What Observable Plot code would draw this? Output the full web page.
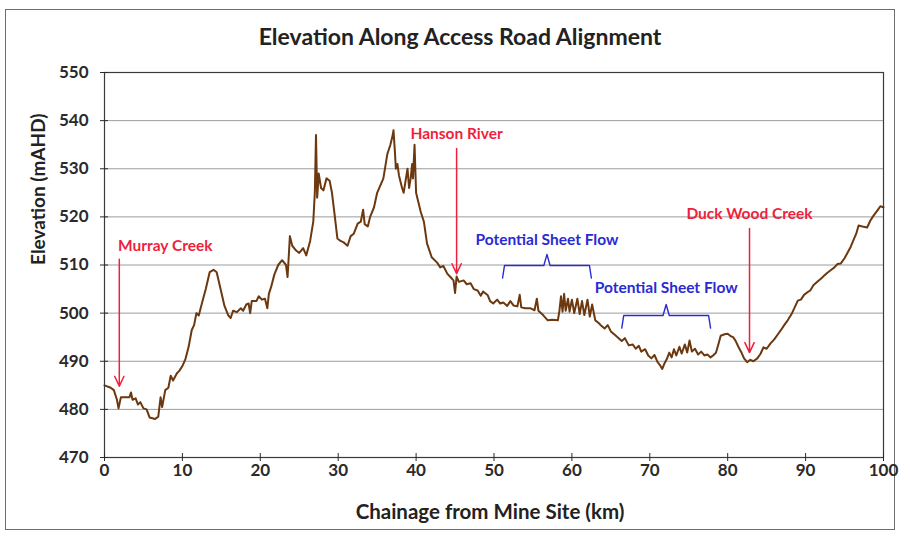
<!DOCTYPE html>
<html><head><meta charset="utf-8">
<script src="https://cdn.jsdelivr.net/npm/d3@7"></script>
<script src="https://cdn.jsdelivr.net/npm/@observablehq/plot@0.6"></script>
<style>
body{margin:0;background:#fff;}
#wrap{position:relative;width:902px;height:539px;overflow:hidden;}
#border{position:absolute;left:5px;top:9px;width:890px;height:521px;border:1px solid #6e6e6e;box-sizing:border-box;}
#chart{position:absolute;left:0;top:0;}
</style></head><body>
<div id="wrap"><div id="border"></div><div id="chart"></div></div>
<script>
const km = [0,0.8,1.2,1.6,1.8,2.1,2.6,3.2,3.4,3.6,4.0,4.3,4.6,5.0,5.4,5.8,6.5,6.9,7.2,7.4,7.8,8.2,8.5,8.8,9.3,9.6,10.0,10.4,10.8,11.2,11.5,11.8,12.1,12.5,13.0,13.5,14.0,14.4,14.9,15.4,15.9,16.2,16.5,17.0,17.5,17.8,18.2,18.5,18.7,18.9,19.5,19.8,20.2,20.6,20.9,21.1,21.4,21.8,22.3,22.8,23.3,23.5,23.8,24.1,24.6,25.0,25.5,25.9,26.4,26.8,27.0,27.15,27.3,27.5,27.8,28.1,28.5,28.9,29.2,29.5,29.9,30.3,30.7,31.2,31.6,32.0,32.5,32.9,33.2,33.4,33.8,34.1,34.6,35.0,35.4,35.8,36.3,36.7,37.0,37.1,37.3,37.4,37.6,37.8,38.2,38.4,38.6,38.9,39.1,39.3,39.5,39.6,39.8,40.0,40.3,40.6,41.0,41.4,42.0,42.7,43.1,43.5,44.0,44.4,44.8,45.0,45.2,45.5,46.1,46.5,47.0,47.4,47.9,48.3,48.6,49.2,49.5,49.9,50.4,50.8,51.2,51.7,52.1,52.5,53.0,53.3,53.5,54.0,54.7,55.2,55.5,55.7,56.3,56.9,57.5,58.2,58.4,58.6,58.8,59.0,59.2,59.5,59.7,60.0,60.3,60.7,61.0,61.3,61.6,62.0,62.3,62.6,63.0,63.4,63.7,64.2,64.6,65.0,65.5,66.0,66.4,66.8,67.3,67.8,68.2,68.6,68.9,69.4,69.8,70.2,70.6,71.0,71.3,71.6,71.9,72.2,72.5,72.8,73.1,73.4,73.8,74.1,74.5,74.8,75.1,75.4,75.8,76.2,76.6,77.0,77.4,77.8,78.2,78.5,78.8,79.1,79.6,80.0,80.4,80.7,81.0,81.4,81.8,82.1,82.5,82.9,83.3,83.8,84.2,84.6,85.0,85.5,86.0,86.4,86.8,87.3,87.7,88.2,88.6,89.0,89.4,89.8,90.2,90.6,91.0,91.5,92.0,92.4,92.8,93.3,93.7,94.1,94.5,95.0,95.4,95.8,96.1,96.5,96.8,97.3,97.9,98.3,98.7,99.2,99.6,100.0];
const elevation = [485,484.5,484,482,480.2,482.5,482.5,482.5,483.5,482,482.3,481,481.5,480.2,480,478.3,478,478.5,482.5,480.5,484,484.5,487,486,487.5,488,489,490.5,493,496.5,497.5,500,499.5,502,505,508.5,509,508.5,505,501.5,499.5,499,500.5,500.2,501,500.5,501.8,502,500,502.5,502.5,503.5,502.8,503,501,504,505.5,508,510,511,510,507.5,516,514,513,512.5,513.5,512,515,519,525,537,524,529,526,525.5,528,527.5,525,521,515.5,515,514.7,514,516,516.5,518.6,519,521.5,518.5,518,520,522,525,526.5,528,533,535,537,538,533,530,531,528.6,526,525,527,530,526,528,531,528,535,525,523,521,519,514.5,511.6,510.5,509.5,509.8,508.2,507.5,506.8,504.2,507.6,506.5,506.8,506,506.2,505,504.7,503.6,504.5,503.7,502.5,502,502.8,502,502.2,501.5,502.5,501.6,501.4,503.8,501.2,501,501,500.6,503,500.5,499.6,498.5,498.6,498.5,500.5,503.5,500.3,504,500.5,503,500.3,502.8,500,503,499.8,502.5,499.6,502.8,499.3,501.8,498.5,498,497.5,496.8,497.5,496.2,495.5,494.8,494.2,494.8,493.3,493.5,492.6,493.2,492,492.5,491.2,490.6,491.3,489.8,489.2,488.4,489.6,490.5,491.8,490.8,492.5,491.2,493,491.6,493.5,491.8,494.3,492,492.6,491.4,492,491.2,491.4,490.8,491.3,491.8,493.5,495.3,495.6,495.7,495.2,495,494.3,492.9,491.7,490.6,489.8,490.3,490,490.6,491.5,492.9,492.6,493.7,494.6,495.5,496.4,497.6,498.5,499.8,501.2,502.6,502.8,503.8,504.3,504.7,505.8,506.5,507.2,507.8,508.4,509,509.5,510.2,510.3,511.4,512.6,513.8,515,516.5,518.2,518,517.8,519.2,520.2,521.3,522.2,522];

const xTicks = [0,10,20,30,40,50,60,70,80,90,100];
const yTicks = [470,480,490,500,510,520,530,540,550];

// Red creek/river annotations
const creekNames = ["Murray Creek","Hanson River","Duck Wood Creek"];
const creekKm = [1.9,45.2,82.8];
const creekLabelKm = [7.8,45.2,82.8];
const creekLabelElev = [514,537.3,520.6];
const arrowTopElev = [511.2,534.2,517.6];
const arrowTipElev = [484.8,508.2,491.8];

// Blue sheet-flow braces
const flowLabels = ["Potential Sheet Flow","Potential Sheet Flow"];
const braceStartKm = [51.1,66.4];
const braceEndKm = [62.5,77.8];
const braceElev = [509.9,499.5];
const flowLabelElev = [515.2,505.3];

const profile = km.map((k,i)=>({km:k, elev:elevation[i]}));
const creeks = creekNames.map((n,i)=>({name:n, x:creekKm[i], lx:creekLabelKm[i], ly:creekLabelElev[i], y1:arrowTopElev[i], y2:arrowTipElev[i]}));
const flows = flowLabels.map((n,i)=>({name:n, s:braceStartKm[i], e:braceEndKm[i], m:(braceStartKm[i]+braceEndKm[i])/2, y:braceElev[i], ly:flowLabelElev[i]}));
const bracePts = flows.flatMap((f,i)=>[
  {g:i,x:f.s,y:f.y-2.6},{g:i,x:f.s+0.25,y:f.y},{g:i,x:f.m-0.4,y:f.y},{g:i,x:f.m,y:f.y+2.3},
  {g:i,x:f.m+0.4,y:f.y},{g:i,x:f.e-0.25,y:f.y},{g:i,x:f.e,y:f.y-2.6}
]);

const red = "#ef1f3d", blue = "#2a2ad4";

const chart = Plot.plot({
  width: 902, height: 539,
  marginTop: 72, marginRight: 19, marginBottom: 82, marginLeft: 104,
  style: {fontFamily: "Lato, 'Open Sans', sans-serif", fontWeight: "bold", fontSize: "17px", color: "#2a2a2a", background: "transparent"},
  x: {domain: [0,100], ticks: xTicks},
  y: {domain: [470,550], ticks: yTicks},
  marks: [
    Plot.gridY(yTicks, {stroke: "#9c9c9c", strokeOpacity: 1, strokeWidth: 1}),
    Plot.line(profile, {x: "km", y: "elev", stroke: "#6b3810", strokeWidth: 2}),
    Plot.frame({stroke: "#3a3a3a", strokeWidth: 1.2}),
    Plot.axisY(yTicks, {tickSize: 8, dx: 4, tickPadding: 12, label: null, fontSize: 17}),
    Plot.axisX(xTicks, {tickSize: 8, dy: -4, tickPadding: 2, label: null, fontSize: 17}),
    Plot.arrow(creeks, {x1: "x", x2: "x", y1: "y1", y2: "y2", stroke: red, strokeWidth: 1.5, headLength: 11, headAngle: 50}),
    Plot.text(creeks, {x: "lx", y: "ly", text: "name", fill: red, fontSize: 15.5, fontWeight: "bold"}),
    Plot.line(bracePts, {x: "x", y: "y", z: "g", stroke: blue, strokeWidth: 1.4}),
    Plot.text(flows, {x: "m", y: "ly", text: "name", fill: blue, fontSize: 15.5, fontWeight: "bold"}),
    Plot.text(["Elevation Along Access Road Alignment"], {frameAnchor: "top", dy: -44, dx: -34, fontSize: 23, fontWeight: "bold", fill: "#222"}),
    Plot.text(["Chainage from Mine Site (km)"], {frameAnchor: "bottom", dy: 61, dx: -4, fontSize: 20.5, fontWeight: "bold", fill: "#222"}),
    Plot.text(["Elevation (mAHD)"], {frameAnchor: "left", dx: -66, rotate: -90, fontSize: 19, fontWeight: "bold", fill: "#222"})
  ]
});
document.getElementById("chart").appendChild(chart);
</script>
</body></html>
